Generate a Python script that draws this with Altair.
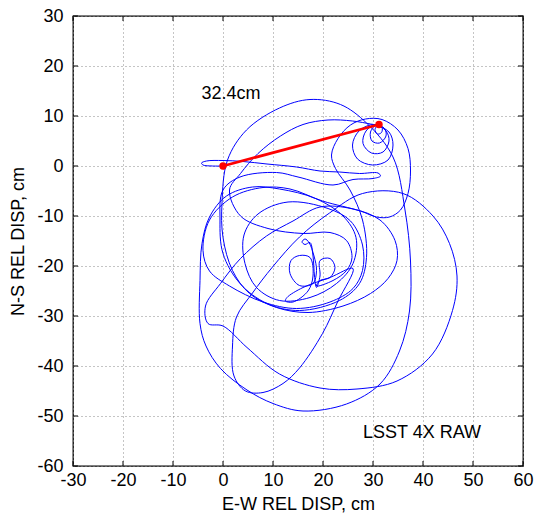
import altair as alt
import pandas as pd

# ---- data ----
seg_tail = [(0, 0), (-2.1, 0.0), (-4.0, 0.2), (-4.3, 0.6), (-3.3, 1.0), (0, 1.1), (4, 0.9), (8.8, 0.4),
            (14.7, -0.2), (19.4, -1.0), (23.3, -1.2), (27.3, -1.5), (31.0, -1.4), (31.5, -2.0),
            (30.0, -2.5), (26.0, -2.7), (22.0, -3.8)]
seg_e2 = [(15, -2.2), (10.7, -1.3), (3.4, -2.2), (0, -4.8), (-0.6, -10.8), (0, -17.5), (3.4, -23.5),
          (8.8, -27.5), (15.3, -28.9), (23.3, -26.9), (27.3, -23.5), (28.7, -18.3), (27.9, -10.8), (25.4, -4.8)]
seg_l5 = [(22.5, -0.5), (21.7, 2.2), (23, 5.5), (25.5, 8.2), (28.5, 9.4), (31.8, 9.3), (35, 7.2), (37, 3.5),
          (37.5, -1), (37, -5.5), (35.5, -8.8), (33.3, -10.2), (30.7, -10.2), (27.5, -9.0)]
seg_e1 = [(19.9, -7.0), (13.4, -4.6), (8, -4.3), (1.9, -6.2), (-2.7, -10.8), (-4.0, -16.9), (-2.7, -21),
          (1.3, -24), (8, -27.2), (14.7, -28.5), (21.4, -27.2), (26, -24.5), (27.9, -20.9), (27.9, -15.8),
          (25.5, -11), (21, -8.5)]
seg_e3 = [(13, -7.2), (7, -9.6), (4.2, -13.8), (4.4, -19.5), (6.7, -24.3), (11.3, -26.9), (17.4, -26.3),
          (22.7, -23.5), (26, -19.5), (26.6, -14.3), (24, -10)]
seg_outer = [(18.5, -6.5), (11.3, -4.6), (5.9, -4.2), (0.7, -6.0), (-2.7, -10.2), (-4.2, -15.5), (-4.6, -22.9),
             (-4.6, -31.5), (-3.4, -36), (-0.5, -40.5), (4.8, -44.8), (10, -47.5), (16, -49), (24.7, -47.6),
             (31.4, -43.6), (35.3, -37), (37.3, -29), (37.5, -19), (36.4, -8.8), (34, 1.8), (28.7, 8.6),
             (23.5, 12.3), (17.4, 13.3), (11.3, 11.6), (4.7, 7.2), (0.9, 1.2), (-0.2, -7.4), (0, -14.3),
             (1.9, -20.9), (5.3, -25.5), (10.7, -28.3)]
seg_right = [(17, -29.3), (24, -28), (29.5, -25.5), (33, -22.5), (34.8, -18.9), (34.4, -14.9), (31.4, -10.8),
             (26, -8.6), (19.4, -8.2)]
seg_r1 = [(14, -11), (8.7, -14), (3.5, -18.5), (-0.5, -23.5), (-3.5, -28), (-3, -31.5), (0, -32), (4.8, -36.3),
          (11.3, -41.6), (19.4, -44.4), (26.8, -44.6), (34.8, -43), (41.9, -37.6), (45.9, -28.9), (46.8, -22),
          (45.3, -15.5), (42, -10), (36, -5.5), (27.9, -5.5), (21.3, -9.4), (15.3, -14.2), (9.9, -20.2),
          (5.9, -25.4), (2.7, -30.2)]
seg_c = [(1.9, -36), (2.2, -42), (4.5, -45), (8, -45.3), (12, -43.5), (15.3, -40.4), (19.9, -33.5), (23, -27),
         (26, -20.5)]
seg_squiggle = [(21.4, -22.3), (16, -24.3), (12.8, -26.3), (12.5, -27), (14, -27.2), (17, -25), (18, -22),
                (17.4, -18.3), (15.3, -17.9), (13.6, -18.9), (13.4, -21.5), (15.3, -23.9), (18, -23.5),
                (18.7, -20.9), (18.2, -18), (17.2, -15.3), (16.4, -14.6), (15.8, -15.2), (16.4, -15.7),
                (17.4, -15.3), (18, -18), (18.3, -22), (18.7, -24.3), (19.4, -22), (19.4, -18.9), (21.4, -18.5),
                (22.4, -20.3), (21.4, -22.3), (19.4, -22.9), (18.7, -24), (22, -22.9), (24.7, -20.9),
                (25.8, -18.3), (24.7, -14.9), (21.4, -13.3), (16, -13.5)]
seg_final = [(9, -12.5), (3.5, -10), (1.3, -4.8), (3.5, -1.5), (7, 2.5), (11.5, 6), (16, 8.3), (21, 9.2),
             (25.9, 9.0), (29.5, 8.4)]
seg_spiral = [(30.5, 8.2), (33.2, 6.8), (34, 4.2), (33, 1.2), (29.9, 0.2), (26.9, 1.4), (25.9, 4.2), (27.2, 7.0),
              (30.2, 8.3), (32.6, 7.0), (33.2, 5.0), (32, 2.8), (29.7, 2.6), (28, 4.5), (28.6, 7.0), (30.6, 8.3),
              (32.3, 7.5), (32.6, 6.0), (31.3, 4.6), (29.8, 5.0), (29.5, 6.8), (30.8, 8.3), (31.8, 7.7),
              (31.7, 6.7), (30.9, 6.4), (30.4, 7.3), (31.0, 8.2), (31.2, 8.3)]

segments = [seg_tail, seg_e2, seg_l5, seg_e1, seg_e3, seg_outer, seg_right, seg_r1, seg_c,
            seg_squiggle, seg_final, seg_spiral]

disp_start = (0, 0)
disp_end = (31.2, 8.3)
disp_label = "32.4cm"
label_pos = (-4.3, 14.4)
run_label = "LSST 4X RAW"
run_pos = (28.0, -53.3)

x_ticks = [-30, -20, -10, 0, 10, 20, 30, 40, 50, 60]
y_ticks = [-60, -50, -40, -30, -20, -10, 0, 10, 20, 30]

# ---- tables ----
rows = []
for seg in segments:
    for (px, py) in seg:
        rows.append({"x": px, "y": py, "i": len(rows)})
path_df = pd.DataFrame(rows)
red_df = pd.DataFrame({"x": [disp_start[0], disp_end[0]], "y": [disp_start[1], disp_end[1]], "i": [0, 1]})
lab_df = pd.DataFrame({"x": [label_pos[0]], "y": [label_pos[1]], "t": [disp_label]})
run_df = pd.DataFrame({"x": [run_pos[0]], "y": [run_pos[1]], "t": [run_label]})
xt_df = pd.DataFrame({"v": x_ticks})
yt_df = pd.DataFrame({"v": y_ticks})

FONT = "Liberation Sans"
xs = alt.Scale(domain=[-30, 60], nice=False, zero=False)
ys = alt.Scale(domain=[-60, 30], nice=False, zero=False)

x_axis = alt.Axis(values=x_ticks, grid=True, gridDash=[1, 3], gridColor="#8a8a8a", gridWidth=1,
                  ticks=False, domain=False, labelFont=FONT, labelFontSize=18, labelColor="black",
                  labelExpr="'' + datum.value",
                  labelPadding=5, labelFlush=False, title="E-W REL DISP, cm", titleFont=FONT,
                  titleFontSize=18, titleFontWeight="normal", titleColor="black", titlePadding=6)
y_axis = alt.Axis(values=y_ticks, grid=True, gridDash=[1, 3], gridColor="#8a8a8a", gridWidth=1,
                  ticks=False, domain=False, labelFont=FONT, labelFontSize=18, labelColor="black",
                  labelExpr="'' + datum.value",
                  labelPadding=10, labelFlush=False, title="N-S REL DISP, cm", titleFont=FONT,
                  titleFontSize=18, titleFontWeight="normal", titleColor="black",
                  titleX=-55, titleY=225, titleAngle=270, titleBaseline="middle", titleAlign="center")

traj = alt.Chart(path_df).mark_line(color="#0000ff", strokeWidth=1, interpolate="catmull-rom", clip=True).encode(
    x=alt.X("x:Q", scale=xs, axis=x_axis),
    y=alt.Y("y:Q", scale=ys, axis=y_axis),
    order="i:Q",
)
red_line = alt.Chart(red_df).mark_line(color="#ff0000", strokeWidth=2.7).encode(
    x=alt.X("x:Q", scale=xs), y=alt.Y("y:Q", scale=ys), order="i:Q")
red_pts = alt.Chart(red_df).mark_circle(color="#ff0000", size=55, opacity=1).encode(
    x=alt.X("x:Q", scale=xs), y=alt.Y("y:Q", scale=ys))
lab = alt.Chart(lab_df).mark_text(font=FONT, fontSize=18, align="left", baseline="middle", color="black").encode(
    x=alt.X("x:Q", scale=xs), y=alt.Y("y:Q", scale=ys), text="t:N")
run = alt.Chart(run_df).mark_text(font=FONT, fontSize=18, align="left", baseline="middle", color="black").encode(
    x=alt.X("x:Q", scale=xs), y=alt.Y("y:Q", scale=ys), text="t:N")

tick_style = dict(color="black", strokeWidth=1)
xt_bot = alt.Chart(xt_df).mark_rule(**tick_style).encode(
    x=alt.X("v:Q", scale=xs), y=alt.value(450), y2=alt.value(445))
xt_top = alt.Chart(xt_df).mark_rule(**tick_style).encode(
    x=alt.X("v:Q", scale=xs), y=alt.value(0), y2=alt.value(5))
yt_left = alt.Chart(yt_df).mark_rule(**tick_style).encode(
    y=alt.Y("v:Q", scale=ys), x=alt.value(0), x2=alt.value(5))
yt_right = alt.Chart(yt_df).mark_rule(**tick_style).encode(
    y=alt.Y("v:Q", scale=ys), x=alt.value(450), x2=alt.value(445))

chart = alt.layer(traj, red_line, red_pts, lab, run, xt_bot, xt_top, yt_left, yt_right).properties(
    width=450, height=450,
    autosize=alt.AutoSizeParams(type="none"),
    padding={"left": 73, "top": 16, "right": 11, "bottom": 51},
    background="white",
).configure_view(stroke="black", strokeWidth=1.3)

chart.save("out.html", embed_options={"renderer": "svg", "actions": False})
